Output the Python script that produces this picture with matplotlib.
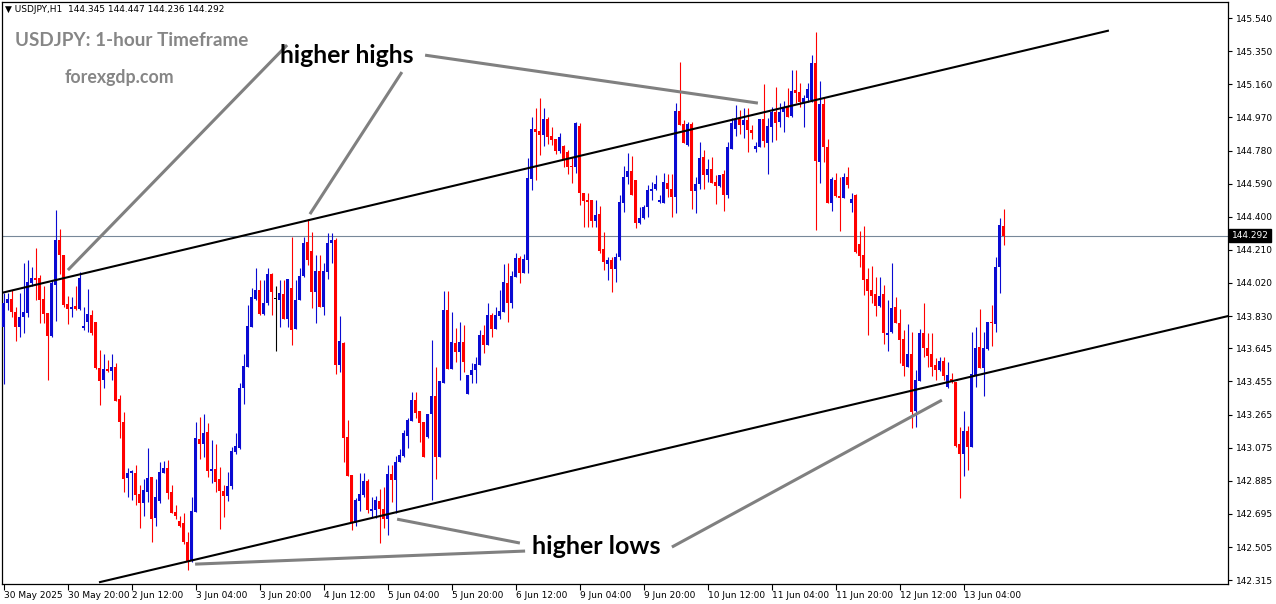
import matplotlib
matplotlib.use("Agg")
import matplotlib.pyplot as plt
import matplotlib.transforms as mtransforms
import numpy as np

# USDJPY H1 candles, 30 May 2025 04:00 .. 13 Jun 2025 14:00 (one value per bar)
opens = [
    143.767, 143.905, 143.927, 143.854, 143.767, 143.825, 143.848, 144.020, 144.048, 144.048,
    143.927, 143.848, 143.716, 144.008, 144.266, 144.180, 143.899, 143.871, 143.888, 143.871,
    143.761, 143.796, 143.836, 143.796, 143.532, 143.463, 143.526, 143.515, 143.538, 143.354,
    143.222, 142.901, 142.930, 142.930, 142.809, 142.757, 142.820, 142.907, 142.671, 142.769,
    142.930, 142.958, 142.820, 142.706, 142.654, 142.643, 142.534, 142.425, 142.706, 143.125,
    143.096, 143.165, 142.941, 142.953, 142.895, 142.826, 142.797, 142.855, 143.050, 143.073,
    143.417, 143.538, 143.767, 143.927, 143.979, 143.842, 143.905, 144.071, 143.927, 143.922,
    143.956, 143.813, 143.991, 143.756, 143.922, 144.060, 144.255, 144.203, 143.968, 144.088,
    143.882, 144.083, 144.249, 144.266, 143.549, 143.675, 143.136, 142.918, 142.643, 142.769,
    142.803, 142.884, 142.712, 142.717, 142.769, 142.723, 142.665, 142.924, 142.889, 142.992,
    143.027, 143.142, 143.228, 143.348, 143.285, 143.222, 143.136, 143.268, 143.371, 143.021,
    143.446, 143.865, 143.526, 143.675, 143.624, 143.681, 143.383, 143.492, 143.520, 143.549,
    143.721, 143.664, 143.836, 143.756, 143.830, 143.854, 144.020, 143.905, 144.054, 144.163,
    144.077, 144.151, 144.616, 144.903, 144.892, 144.868, 144.960, 144.863, 144.846, 144.777,
    144.806, 144.771, 144.691, 144.685, 144.920, 144.536, 144.496, 144.496, 144.375, 144.416,
    144.214, 144.129, 144.151, 144.100, 144.169, 144.478, 144.628, 144.662, 144.610, 144.364,
    144.393, 144.456, 144.547, 144.559, 144.484, 144.478, 144.593, 144.559, 144.513, 145.006,
    144.931, 144.811, 144.931, 144.547, 144.587, 144.742, 144.639, 144.674, 144.599, 144.576,
    144.645, 144.524, 144.788, 144.903, 144.960, 144.926, 144.955, 144.897, 144.788, 144.800,
    144.960, 144.823, 144.914, 145.000, 144.943, 145.000, 145.029, 144.977, 145.127, 145.115,
    145.058, 145.081, 145.069, 145.282, 144.714, 145.046, 144.800, 144.478, 144.610, 144.519,
    144.507, 144.628, 144.478, 144.524, 144.243, 144.180, 144.042, 143.979, 143.956, 143.888,
    143.956, 143.721, 143.738, 143.882, 143.790, 143.698, 143.538, 143.612, 143.285, 143.457,
    143.733, 143.647, 143.612, 143.549, 143.520, 143.572, 143.423, 143.469, 143.452, 143.096,
    143.038, 143.170, 143.079, 143.486, 143.652, 143.532, 143.641, 143.796, 143.784, 144.111,
    144.345,
]
highs = [
    143.962, 143.962, 143.979, 143.882, 143.962, 144.134, 144.151, 144.111, 144.220, 144.065,
    144.002, 143.848, 144.037, 144.438, 144.330, 144.180, 143.945, 143.939, 144.002, 144.083,
    143.882, 143.985, 143.865, 143.796, 143.635, 143.612, 143.578, 143.612, 143.561, 143.377,
    143.279, 142.958, 142.947, 142.975, 142.860, 142.895, 143.073, 142.907, 142.895, 142.992,
    142.998, 143.004, 142.860, 142.745, 142.683, 142.700, 142.591, 142.791, 143.222, 143.251,
    143.268, 143.216, 143.119, 143.096, 142.964, 142.860, 142.935, 143.079, 143.159, 143.446,
    143.612, 143.893, 143.991, 144.106, 144.037, 144.037, 144.106, 144.077, 144.002, 144.037,
    144.037, 144.042, 144.284, 144.037, 144.106, 144.284, 144.387, 144.312, 144.180, 144.180,
    144.134, 144.307, 144.307, 144.278, 143.830, 143.681, 143.233, 142.918, 142.786, 142.930,
    142.930, 142.895, 142.791, 142.797, 142.837, 142.849, 142.975, 142.975, 143.027, 143.067,
    143.176, 143.245, 143.394, 143.394, 143.285, 143.222, 143.268, 143.692, 143.538, 143.457,
    143.973, 143.973, 143.854, 143.761, 143.796, 143.779, 143.492, 143.561, 143.595, 143.750,
    143.779, 143.905, 143.848, 143.882, 143.979, 144.129, 144.134, 144.088, 144.192, 144.174,
    144.186, 144.737, 144.972, 145.023, 145.081, 145.023, 144.972, 144.914, 144.846, 144.880,
    144.811, 144.783, 144.742, 144.943, 144.937, 144.536, 144.536, 144.496, 144.496, 144.461,
    144.312, 144.169, 144.169, 144.192, 144.524, 144.691, 144.765, 144.748, 144.610, 144.456,
    144.467, 144.582, 144.599, 144.639, 144.524, 144.651, 144.645, 144.645, 145.052, 145.287,
    144.955, 144.943, 144.943, 144.628, 144.829, 144.783, 144.731, 144.742, 144.639, 144.639,
    144.668, 144.829, 144.966, 145.041, 145.012, 145.023, 145.023, 144.926, 144.829, 144.960,
    145.161, 144.966, 145.029, 145.144, 145.052, 145.064, 145.138, 145.241, 145.241, 145.167,
    145.098, 145.167, 145.327, 145.459, 145.178, 145.081, 144.846, 144.628, 144.651, 144.628,
    144.651, 144.685, 144.536, 144.530, 144.318, 144.347, 144.106, 144.117, 144.054, 144.054,
    144.008, 143.922, 144.134, 143.939, 143.871, 143.750, 143.784, 143.738, 143.520, 143.756,
    143.905, 143.733, 143.733, 143.589, 143.595, 143.595, 143.566, 143.503, 143.452, 143.193,
    143.285, 143.199, 143.738, 143.767, 143.871, 143.738, 143.796, 143.893, 144.169, 144.393,
    144.447,
]
lows = [
    143.440, 143.865, 143.825, 143.686, 143.710, 143.733, 143.825, 144.002, 143.922, 143.790,
    143.790, 143.463, 143.710, 143.802, 144.071, 143.882, 143.784, 143.825, 143.865, 143.865,
    143.750, 143.738, 143.721, 143.526, 143.320, 143.417, 143.509, 143.463, 143.342, 143.130,
    142.820, 142.791, 142.774, 142.745, 142.614, 142.683, 142.763, 142.534, 142.625, 142.757,
    142.930, 142.780, 142.700, 142.665, 142.620, 142.522, 142.373, 142.419, 142.706, 143.010,
    143.021, 142.907, 142.872, 142.820, 142.608, 142.677, 142.769, 142.837, 143.038, 143.067,
    143.325, 143.538, 143.767, 143.922, 143.836, 143.836, 143.893, 143.836, 143.629, 143.767,
    143.813, 143.767, 143.664, 143.756, 143.922, 144.054, 144.123, 143.876, 143.790, 143.882,
    143.836, 144.042, 144.134, 143.497, 143.509, 142.992, 142.912, 142.602, 142.625, 142.712,
    142.791, 142.700, 142.677, 142.671, 142.528, 142.614, 142.574, 142.763, 142.700, 142.992,
    143.021, 143.073, 143.228, 143.245, 143.107, 143.021, 143.130, 142.774, 142.895, 143.021,
    143.446, 143.526, 143.526, 143.566, 143.463, 143.509, 143.383, 143.446, 143.446, 143.549,
    143.618, 143.664, 143.710, 143.756, 143.813, 143.854, 143.796, 143.876, 144.054, 144.020,
    144.077, 144.077, 144.553, 144.610, 144.754, 144.806, 144.817, 144.811, 144.760, 144.765,
    144.685, 144.645, 144.593, 144.651, 144.467, 144.341, 144.341, 144.341, 144.341, 144.192,
    144.094, 144.037, 143.968, 144.025, 144.151, 144.427, 144.587, 144.524, 144.335, 144.358,
    144.387, 144.398, 144.496, 144.553, 144.478, 144.478, 144.513, 144.398, 144.421, 144.926,
    144.823, 144.806, 144.444, 144.421, 144.559, 144.559, 144.599, 144.593, 144.473, 144.570,
    144.433, 144.507, 144.788, 144.863, 144.874, 144.851, 144.771, 144.846, 144.771, 144.800,
    144.800, 144.645, 144.829, 144.840, 144.914, 144.886, 144.972, 144.972, 145.052, 145.029,
    144.914, 145.058, 145.058, 144.324, 144.593, 144.714, 144.478, 144.433, 144.513, 144.318,
    144.507, 144.565, 144.427, 144.192, 144.111, 143.951, 143.721, 143.905, 143.830, 143.882,
    143.669, 143.629, 143.733, 143.790, 143.561, 143.486, 143.538, 143.187, 143.193, 143.457,
    143.595, 143.538, 143.486, 143.463, 143.515, 143.463, 143.417, 143.446, 143.079, 142.786,
    142.912, 142.947, 143.079, 143.423, 143.532, 143.371, 143.635, 143.658, 143.738, 143.962,
    144.236,
]
closes = [
    143.905, 143.927, 143.854, 143.767, 143.825, 143.854, 144.025, 144.048, 144.037, 143.922,
    143.842, 143.716, 144.020, 144.266, 144.180, 143.893, 143.871, 143.882, 143.871, 144.048,
    143.773, 143.842, 143.733, 143.532, 143.457, 143.526, 143.515, 143.538, 143.342, 143.222,
    142.895, 142.930, 142.941, 142.803, 142.757, 142.832, 142.901, 142.665, 142.791, 142.935,
    142.958, 142.814, 142.700, 142.683, 142.625, 142.534, 142.425, 142.712, 143.130, 143.096,
    143.159, 142.941, 142.953, 142.878, 142.826, 142.797, 142.855, 143.056, 143.084, 143.417,
    143.543, 143.773, 143.939, 143.979, 143.842, 143.905, 144.071, 143.968, 143.927, 143.962,
    143.813, 144.042, 143.750, 143.922, 144.060, 144.249, 144.151, 143.968, 144.088, 143.882,
    144.088, 144.249, 144.266, 143.549, 143.687, 143.130, 142.912, 142.643, 142.774, 142.809,
    142.884, 142.717, 142.723, 142.774, 142.723, 142.665, 142.924, 142.889, 142.992, 143.033,
    143.159, 143.233, 143.348, 143.274, 143.216, 143.021, 143.268, 143.371, 143.021, 143.457,
    143.865, 143.526, 143.681, 143.624, 143.681, 143.566, 143.492, 143.520, 143.555, 143.721,
    143.664, 143.836, 143.756, 143.836, 143.859, 144.025, 143.905, 144.060, 144.163, 144.077,
    144.157, 144.622, 144.903, 144.886, 144.868, 144.960, 144.857, 144.840, 144.777, 144.857,
    144.725, 144.685, 144.685, 144.937, 144.536, 144.490, 144.484, 144.375, 144.410, 144.203,
    144.140, 144.151, 144.100, 144.169, 144.484, 144.628, 144.662, 144.524, 144.364, 144.393,
    144.456, 144.553, 144.559, 144.587, 144.496, 144.599, 144.559, 144.513, 145.006, 144.926,
    144.823, 144.931, 144.547, 144.587, 144.737, 144.639, 144.674, 144.593, 144.576, 144.639,
    144.524, 144.800, 144.937, 144.960, 144.926, 144.955, 144.897, 144.880, 144.806, 144.960,
    144.834, 144.920, 145.000, 144.937, 145.000, 145.023, 144.972, 145.121, 145.110, 145.058,
    145.081, 145.133, 145.282, 144.719, 145.046, 144.800, 144.478, 144.616, 144.519, 144.507,
    144.628, 144.582, 144.501, 144.198, 144.174, 144.037, 143.973, 143.945, 143.888, 143.945,
    143.733, 143.733, 143.876, 143.790, 143.692, 143.543, 143.612, 143.279, 143.463, 143.733,
    143.647, 143.601, 143.538, 143.520, 143.572, 143.486, 143.492, 143.452, 143.084, 143.038,
    143.170, 143.079, 143.497, 143.647, 143.532, 143.647, 143.796, 143.790, 144.111, 144.352,
    144.292,
]

# price axis labels (MT4 steps) and time labels every 16 bars
price_ticks = [145.540, 145.350, 145.160, 144.970, 144.780, 144.590, 144.400, 144.210,
               144.020, 143.830, 143.645, 143.455, 143.265, 143.075, 142.885, 142.695,
               142.505, 142.315]
time_labels = ['30 May 2025', '30 May 20:00', '2 Jun 12:00', '3 Jun 04:00', '3 Jun 20:00',
               '4 Jun 12:00', '5 Jun 04:00', '5 Jun 20:00', '6 Jun 12:00', '9 Jun 04:00',
               '9 Jun 20:00', '10 Jun 12:00', '11 Jun 04:00', '11 Jun 20:00', '12 Jun 12:00',
               '13 Jun 04:00']
last_price = 144.292

# channel lines: (bar, price) end points
upper_channel = [(-0.125, 143.965), (276.1, 145.467)]
lower_channel = [(24.125, 142.304), (306.1, 143.830)]

# annotation pointer lines
hh_lines = [[(70.9, 145.385), (16.1, 144.094)],
            [(99.6, 145.230), (76.6, 144.415)],
            [(105.4, 145.327), (188.6, 145.052)]]
hl_lines = [[(130.4, 142.482), (47.9, 142.407)],
            [(129.1, 142.528), (98.4, 142.665)],
            [(167.1, 142.505), (234.6, 143.348)]]

BULL = '#0a0ad2'
BEAR = '#ff0000'

fig = plt.figure(figsize=(12.76, 6.04), dpi=100)
ax = fig.add_axes([2 / 1276, 20 / 604, 1226 / 1276, 582 / 604])

o = np.array(opens)
h = np.array(highs)
l = np.array(lows)
c = np.array(closes)
x = np.arange(len(o))

colors = np.where(c > o, BULL, np.where(c < o, BEAR, 'black'))

# wicks
ax.vlines(x, l, h, colors=colors, linewidth=0.8, zorder=2)

# bodies (at least one pixel tall)
body_low = np.minimum(o, c)
body_h = np.maximum(np.abs(c - o), 0.006)
ax.bar(x, body_h, bottom=body_low, width=0.78, color=colors, linewidth=0,
       antialiased=False, zorder=3)

# current price line
ax.axhline(last_price, color='#778899', linewidth=0.8, zorder=1)

# channel
for line in (upper_channel, lower_channel):
    xs, ys = zip(*line)
    ax.plot(xs, ys, color='black', linewidth=1.5, zorder=4)

# annotation lines
for line in hh_lines + hl_lines:
    xs, ys = zip(*line)
    ax.plot(xs, ys, color='#808080', linewidth=2.2, solid_capstyle='butt', zorder=5)

ax.text(85.9, 145.327, 'higher highs', fontsize=17.8, fontweight='bold',
        family=['Lato', 'DejaVu Sans'], color='black', ha='center', va='center', zorder=6)
ax.text(148.1, 142.511, 'higher lows', fontsize=18, fontweight='bold',
        family=['Lato', 'DejaVu Sans'], color='black', ha='center', va='center', zorder=6)

# limits
ax.set_xlim(-0.375, 306.125)
ax.set_ylim(142.293, 145.632)

# axes styling
ax.yaxis.tick_right()
ax.set_yticks(price_ticks)
ax.set_yticklabels(['%.3f' % v for v in price_ticks])
ax.set_xticks(np.arange(len(time_labels)) * 16)
ax.set_xticklabels(time_labels, ha='left')
ax.tick_params(axis='y', length=3, width=0.8, labelsize=6.5, pad=3, colors='black')
ax.tick_params(axis='x', length=4, width=0.8, labelsize=6.5, pad=1, colors='black')
offset = mtransforms.ScaledTranslation(1 / 100, 0, fig.dpi_scale_trans)
for lbl in ax.get_xticklabels():
    lbl.set_transform(lbl.get_transform() + offset)
for sp in ax.spines.values():
    sp.set_color('black')
    sp.set_linewidth(0.9)

# current price tag on the axis
trans = mtransforms.blended_transform_factory(ax.transAxes, ax.transData)
ax.text(1.003, last_price, '%.3f' % last_price, transform=trans, fontsize=6.5,
        color='white', ha='left', va='center', zorder=10, clip_on=False,
        bbox=dict(boxstyle='square,pad=0.25', facecolor='black', edgecolor='black'))

# header and titles
fig.text(5 / 1276, 1 - 10 / 604, '\u25bc USDJPY,H1  144.345 144.447 144.236 144.292',
         fontsize=6.5, color='black', va='center', ha='left')
fig.text(15 / 1276, 1 - 40 / 604, 'USDJPY: 1-hour Timeframe', fontsize=13.6,
         fontweight='bold', family=['Lato', 'DejaVu Sans'], color='#868686',
         va='center', ha='left')
fig.text(65 / 1276, 1 - 77 / 604, 'forexgdp.com', fontsize=12.8,
         fontweight='bold', family=['Lato', 'DejaVu Sans'], color='#868686',
         va='center', ha='left')

fig.savefig('out.png', dpi=100, facecolor='white')
